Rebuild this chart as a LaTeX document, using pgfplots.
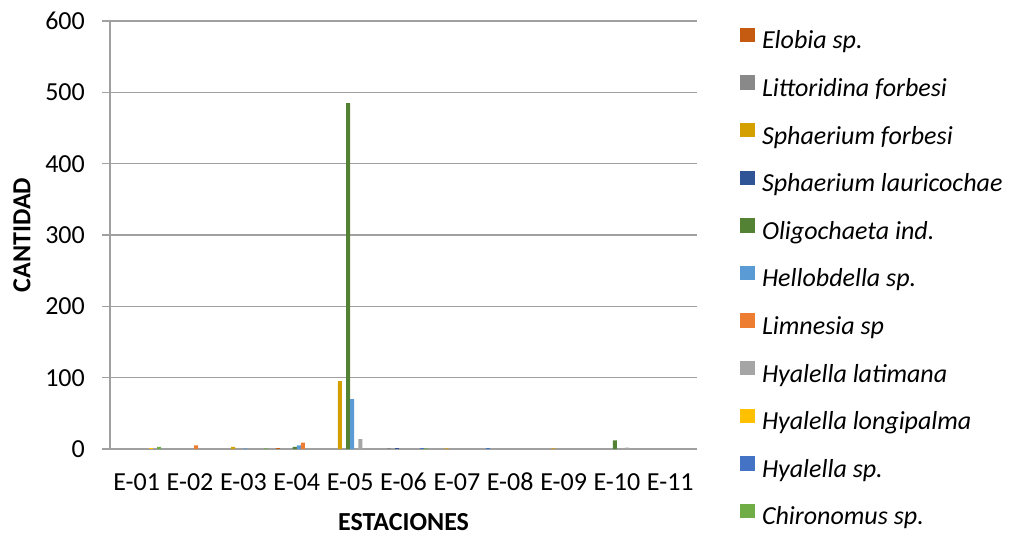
\documentclass[border=0pt]{standalone}
\usepackage{pgfplots}
\pgfplotsset{compat=1.18}
\usepackage{fontspec}
\setmainfont{Carlito}
\definecolor{cHid}{HTML}{4472C4}
\definecolor{cElo}{HTML}{C55A11}
\definecolor{cLit}{HTML}{898989}
\definecolor{cSfo}{HTML}{D4A000}
\definecolor{cSla}{HTML}{2F5597}
\definecolor{cOli}{HTML}{548235}
\definecolor{cHel}{HTML}{5B9BD5}
\definecolor{cLim}{HTML}{ED7D31}
\definecolor{cHla}{HTML}{A5A5A5}
\definecolor{cHlo}{HTML}{FFC000}
\definecolor{cHsp}{HTML}{4472C4}
\definecolor{cChi}{HTML}{70AD47}
\definecolor{axgray}{HTML}{A0A0A0}
\newcommand{\bigf}{\fontsize{26}{31}\selectfont}
\begin{document}
\begin{tikzpicture}
\begin{axis}[
  scale only axis, width=587pt, height=428pt,
  at={(0,0)}, anchor=south west,
  ymin=0, ymax=600, ytick={0,100,...,600},
  xmin=-0.5, xmax=10.5, xtick={0,...,10},
  xticklabels={E-01,E-02,E-03,E-04,E-05,E-06,E-07,E-08,E-09,E-10,E-11},
  axis x line*=bottom, axis y line*=left,
  axis line style={draw=axgray, line width=1.3pt},
  ymajorgrids, grid style={draw=axgray, line width=1.2pt},
  tick align=outside, major tick length=8pt,
  y tick style={draw=axgray, line width=1.2pt},
  x tick style={draw=none},
  /pgf/number format/assume math mode=true,
  tick label style={font=\bigf},
  yticklabel style={inner sep=0pt, anchor=east, xshift=-17pt},
  xticklabel style={inner sep=0pt, anchor=north, text height=17pt, text depth=0pt, yshift=-16pt},
  xlabel={\textbf{ESTACIONES}}, ylabel={\textbf{CANTIDAD}},
  label style={font=\bigf},
  xlabel style={at={(axis description cs:0.5,-0.1706)}, anchor=center},
  ylabel style={at={(axis description cs:-0.1499,0.5)}, anchor=center},
  ybar, bar width=4.08pt,
  legend cell align=left,
  legend image code/.code={\fill[#1] (0pt,1.2pt) rectangle (15pt,15.6pt); \path (0pt,0pt) (22pt,0pt);},
  legend style={at={(1.0733,0.984)}, anchor=north west, draw=none, fill=none,
    inner sep=0pt, outer sep=0pt, row sep=19.5pt, font=\bigf\itshape,
    nodes={inner sep=0pt, text height=18pt, text depth=7pt}},
]
\addplot[fill=cElo, draw=none, bar shift=-18.36pt] coordinates {(3,2)};
\addlegendentry{Elobia sp.}
\addplot[fill=cLit, draw=none, bar shift=-14.28pt] coordinates {(5,1)};
\addlegendentry{Littoridina forbesi}
\addplot[fill=cSfo, draw=none, bar shift=-10.20pt] coordinates {(2,3) (4,95) (6,1) (8,1)};
\addlegendentry{Sphaerium forbesi}
\addplot[fill=cSla, draw=none, bar shift=-6.12pt] coordinates {(5,2)};
\addlegendentry{Sphaerium lauricochae}
\addplot[fill=cOli, draw=none, bar shift=-2.04pt] coordinates {(3,3) (4,485) (9,12)};
\addlegendentry{Oligochaeta ind.}
\addplot[fill=cHel, draw=none, bar shift=2.04pt] coordinates {(2,1) (3,5) (4,70)};
\addlegendentry{Hellobdella sp.}
\addplot[fill=cLim, draw=none, bar shift=6.12pt] coordinates {(1,5) (3,9)};
\addlegendentry{Limnesia sp}
\addplot[fill=cHla, draw=none, bar shift=10.20pt] coordinates {(4,14) (7,1) (9,2)};
\addlegendentry{Hyalella latimana}
\addplot[fill=cHlo, draw=none, bar shift=14.28pt] coordinates {(0,1)};
\addlegendentry{Hyalella longipalma}
\addplot[fill=cHsp, draw=none, bar shift=18.36pt] coordinates {(5,1)};
\addlegendentry{Hyalella sp.}
\addplot[fill=cChi, draw=none, bar shift=22.44pt] coordinates {(0,3) (2,1) (5,1)};
\addlegendentry{Chironomus sp.}
\addplot[fill=cHid, draw=none, bar shift=-22.44pt, forget plot] coordinates {(7,1)};
\end{axis}
\pgfresetboundingbox
\path[use as bounding box] (-110pt,-86pt) rectangle (901pt,449pt);
\end{tikzpicture}
\end{document}
